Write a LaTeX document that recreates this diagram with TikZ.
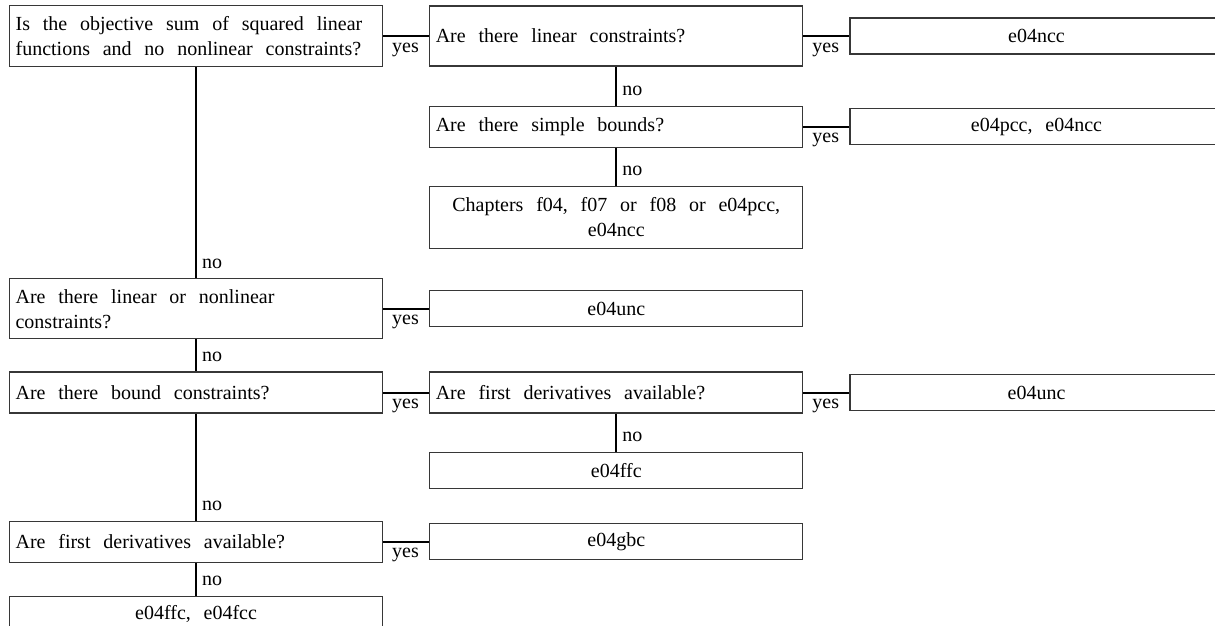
\documentclass[tikz,border=0pt]{standalone}
\usepackage{fontspec}
\setmainfont{Liberation Serif}
\usepackage{tikz}
\usetikzlibrary{positioning}
\definecolor{boxgray}{RGB}{55,55,55}
\tikzset{
  block/.style={rectangle, draw=boxgray, line width=0.6pt, inner xsep=3pt,
    inner ysep=2pt, minimum width=186.5pt, text width=180.5pt,
    font=\fontsize{10}{12.5}\selectfont,
    execute at begin node={\spaceskip=6.4pt\relax}},
  qblock/.style={block, align=left, minimum height=20.5pt},
  qtallblock/.style={qblock, minimum height=30.5pt},
  ablock/.style={block, align=center, minimum height=18pt},
  link/.style={line width=1pt, color=black},
  yeslab/.style={anchor=base west, inner sep=0pt, xshift=4pt, yshift=-8pt,
    font=\fontsize{10}{12}\selectfont},
  nolab/.style={anchor=base west, inner sep=0pt, xshift=2.5pt, yshift=5pt,
    font=\fontsize{10}{12}\selectfont},
}

\begin{document}
\begin{tikzpicture}[node distance=19pt and 23pt]

  \useasboundingbox (0,0) rectangle (607.5pt,-313pt);
  \clip (0,0) rectangle (607.5pt,-313pt);

  %% ── least squares branch ─────────────────────────────────────
  \node[qtallblock, anchor=north west, inner xsep=1.5pt] (sumsq) at (4.5pt,-2.5pt)
    {Is the objective sum of squared linear\\functions and no nonlinear constraints?};
  \node[qtallblock, right=of sumsq, minimum height=30pt] (lincon)
    {Are there linear constraints?};
  \node[ablock, right=of lincon] (ncc) {e04ncc};

  \node[qblock, below=19.5pt of lincon] (simbnd) {Are there simple bounds?};
  \node[ablock, right=of simbnd] (pccncc) {e04pcc, e04ncc};
  \node[ablock, below=of simbnd, minimum height=31pt] (chap)
    {Chapters f04, f07 or f08 or e04pcc,\\e04ncc};

  \draw[link] (sumsq) -- node[yeslab, at start] {yes} (lincon);
  \draw[link] (lincon) -- node[yeslab, at start] {yes} (ncc);
  \draw[link] (lincon) -- node[nolab, at end] {no} (simbnd);
  \draw[link] (simbnd) -- node[yeslab, at start] {yes} (pccncc);
  \draw[link] (simbnd) -- node[nolab, at end] {no} (chap);

  %% ── general objective ────────────────────────────────────────
  \node[qtallblock, below=105.5pt of sumsq, minimum height=30pt] (nlcon)
    {Are there linear or nonlinear\\constraints?};
  \node[ablock, right=of nlcon] (unca) {e04unc};

  \node[qblock, below=16pt of nlcon] (bndcon) {Are there bound constraints?};
  \node[qblock, right=of bndcon] (derivb) {Are first derivatives available?};
  \node[ablock, right=of derivb] (uncb) {e04unc};
  \node[ablock, below=of derivb] (ffc) {e04ffc};

  \node[qblock, below=53.5pt of bndcon] (deriva) {Are first derivatives available?};
  \node[ablock, right=of deriva] (gbc) {e04gbc};
  \node[ablock, below=16.5pt of deriva] (ffcfcc) {e04ffc, e04fcc};

  \draw[link] (sumsq) -- node[nolab, at end] {no} (nlcon);
  \draw[link] (nlcon) -- node[yeslab, at start] {yes} (unca);
  \draw[link] (nlcon) -- node[nolab, at end] {no} (bndcon);
  \draw[link] (bndcon) -- node[yeslab, at start] {yes} (derivb);
  \draw[link] (derivb) -- node[yeslab, at start] {yes} (uncb);
  \draw[link] (derivb) -- node[nolab, at end] {no} (ffc);
  \draw[link] (bndcon) -- node[nolab, at end] {no} (deriva);
  \draw[link] (deriva) -- node[yeslab, at start] {yes} (gbc);
  \draw[link] (deriva) -- node[nolab, at end] {no} (ffcfcc);

\end{tikzpicture}
\end{document}
